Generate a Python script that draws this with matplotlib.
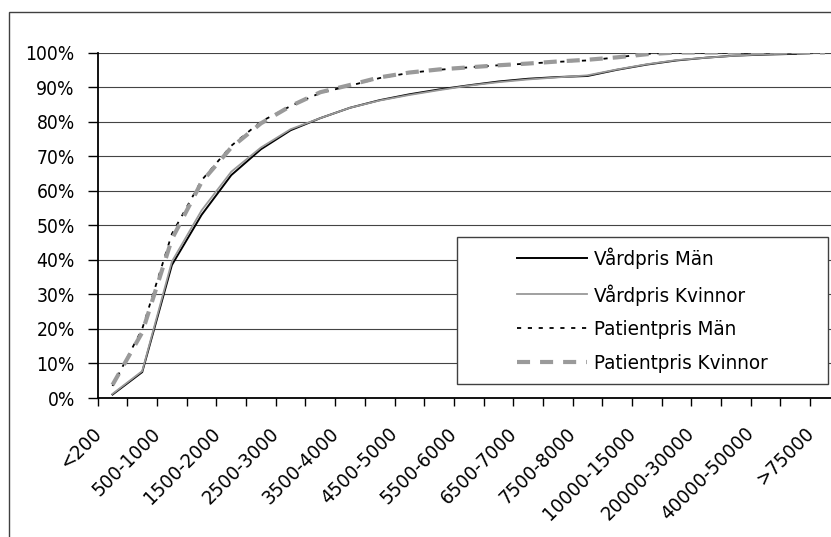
import matplotlib
matplotlib.use("Agg")
import matplotlib.pyplot as plt
from matplotlib import font_manager, transforms
from matplotlib.font_manager import FontProperties
from matplotlib.patches import Rectangle
import numpy as np

# Price intervals (kr) and cumulative share of patients (%)
kategorier = ['<200', '200-500', '500-1000', '1000-1500', '1500-2000', '2000-2500',
              '2500-3000', '3000-3500', '3500-4000', '4000-4500', '4500-5000',
              '5000-5500', '5500-6000', '6000-6500', '6500-7000', '7000-7500',
              '7500-8000', '8000-10000', '10000-15000', '15000-20000', '20000-30000',
              '30000-40000', '40000-50000', '50000-75000', '>75000']

vardpris_man = [1.0, 7.5, 38.5, 53.0, 64.5, 72.0, 77.5, 81.0, 84.0, 86.2, 87.9, 89.3, 90.5,
                91.6, 92.4, 92.9, 93.2, 95.0, 96.5, 97.7, 98.5, 99.1, 99.4, 99.6, 100.0]
vardpris_kvinnor = [1.2, 7.8, 39.5, 54.3, 65.5, 72.5, 77.8, 81.0, 84.0, 86.1, 87.7, 89.1, 90.4,
                    91.4, 92.2, 92.8, 93.4, 95.1, 96.6, 97.8, 98.5, 99.1, 99.5, 99.8, 100.0]
patientpris_man = [3.5, 20.0, 47.5, 63.0, 73.0, 80.0, 84.5, 88.3, 90.4, 92.6, 94.1, 95.0, 95.7,
                   96.3, 96.8, 97.3, 97.7, 98.6, 99.6, 100.0, 100.0, 100.0, 100.0, 100.0, 100.0]
patientpris_kvinnor = [3.8, 19.0, 46.0, 62.5, 72.5, 79.5, 84.5, 88.5, 90.6, 92.8, 94.2, 95.1, 95.7,
                       96.3, 96.8, 97.4, 97.9, 98.6, 99.5, 100.0, 100.0, 100.0, 100.0, 100.0, 100.0]

serier = ['Vårdpris Män', 'Vårdpris Kvinnor', 'Patientpris Män', 'Patientpris Kvinnor']


def find_font(preferences):
    """Return the path of the first installed font whose file name matches a preference."""
    files = [f.fname for f in font_manager.fontManager.ttflist]
    names = {f.name: f.fname for f in font_manager.fontManager.ttflist
             if f.style == 'normal' and f.weight in (400, 'normal', 'regular')}
    for pref in preferences:
        if pref in names:
            return names[pref]
        for path in files:
            if path.lower().endswith(pref):
                return path
    return None


narrow = find_font(['Liberation Sans Narrow', 'Arial Narrow', 'notosans-extracondensed.ttf',
                    'dejavusanscondensed.ttf', 'notosans-condensed.ttf'])
condensed = find_font(['Liberation Sans Narrow', 'Arial Narrow', 'notosans-condensed.ttf',
                       'dejavusanscondensed.ttf', 'notosans-semicondensed.ttf'])


def fprop(path, size):
    if path:
        return FontProperties(fname=path, size=size)
    return FontProperties(family='DejaVu Sans', size=size)


plt.rcParams['lines.scale_dashes'] = False

W, H = 831, 537
fig = plt.figure(figsize=(W / 100, H / 100), dpi=100)
renderer = fig.canvas.get_renderer()


def fitted(path, text, width_px, lo=11, hi=17):
    """Font size (pt) that gives `text` roughly the wanted width in pixels."""
    fp = fprop(path, 16)
    t = fig.text(0, 0, text, fontproperties=fp)
    w = t.get_window_extent(renderer).width
    t.remove()
    return float(np.clip(16 * width_px / w, lo, hi))


# digits: balance between glyph height and label width
fp_tick = fprop(narrow, (fitted(narrow, '100%', 44) + 15.5) / 2)
fp_cat = fprop(narrow, (fitted(narrow, '500-1000', 80) + 16) / 2)
fp_leg = fprop(condensed, fitted(condensed, 'Vårdpris Kvinnor', 152))

# axes placed in pixel terms (right edge runs past the figure)
left, right, top, bottom = 97.7, 839.7, 52.5, 398.0
ax = fig.add_axes([left / W, (H - bottom) / H, (right - left) / W, (bottom - top) / H])

x = np.arange(len(kategorier))
ax.plot(x, vardpris_man, color='black', lw=1.4, label=serier[0], zorder=3)
ax.plot(x, vardpris_kvinnor, color='#999999', lw=1.3, label=serier[1], zorder=4)
ax.plot(x, patientpris_man, color='black', lw=1.3, linestyle=(0, (3.0, 4.8)),
        label=serier[2], zorder=5)
ax.plot(x, patientpris_kvinnor, color='#9a9a9a', lw=3.0, linestyle=(0, (9.4, 7.2)),
        label=serier[3], zorder=6)

ax.set_xlim(-0.5, len(kategorier) - 0.5)
ax.set_ylim(0, 100)

ax.set_yticks(np.arange(0, 101, 10))
ax.set_yticklabels([f'{v}%' for v in range(0, 101, 10)], fontproperties=fp_tick)
ax.yaxis.grid(True, color='#444444', lw=0.8)
ax.set_axisbelow(True)

# tick marks on category borders, labels on every other category
ax.set_xticks(np.arange(-0.5, len(kategorier), 1.0))
ax.set_xticklabels([])
ax.set_xticks(x[::2], minor=True)
ax.set_xticklabels(kategorier[::2], minor=True, rotation=45, ha='right', va='top',
                   rotation_mode='anchor', fontproperties=fp_cat)
ax.tick_params(axis='x', which='major', length=6, width=1, direction='out', color='black')
ax.tick_params(axis='x', which='minor', length=0, pad=0)
ax.tick_params(axis='y', length=7, width=1, direction='out', pad=9.5)
shift = transforms.ScaledTranslation(-0.21, -0.26, fig.dpi_scale_trans)
for lab in ax.get_xticklabels(minor=True):
    lab.set_transform(lab.get_transform() + shift)

for s in ['top', 'right']:
    ax.spines[s].set_visible(False)
for s in ['left', 'bottom']:
    ax.spines[s].set_linewidth(1.3)
    ax.spines[s].set_color('black')

# outer chart border
fig.patches.append(Rectangle((8.5 / W, -0.1), 1.2, (H - 12) / H + 0.1, transform=fig.transFigure,
                             fill=False, edgecolor='#404040', lw=1.0))

# legend box
lx0, lx1, ly0, ly1 = 457, 828, 237, 384
fig.patches.append(Rectangle((lx0 / W, (H - ly1) / H), (lx1 - lx0) / W, (ly1 - ly0) / H,
                             transform=fig.transFigure, facecolor='white',
                             edgecolor='#404040', lw=1.0, zorder=4))
leg_fs = fp_leg.get_size_in_points() * 100 / 72
handles, labels = ax.get_legend_handles_labels()
leg = fig.legend(handles, labels, loc='center',
                 bbox_to_anchor=((lx0 + lx1) / 2 / W, (H - (ly0 + ly1) / 2) / H),
                 frameon=False, prop=fp_leg, handlelength=70 / leg_fs,
                 handletextpad=7 / leg_fs, labelspacing=0.72, borderpad=0)
leg.set_zorder(5)

fig.savefig('out.png', dpi=100)
